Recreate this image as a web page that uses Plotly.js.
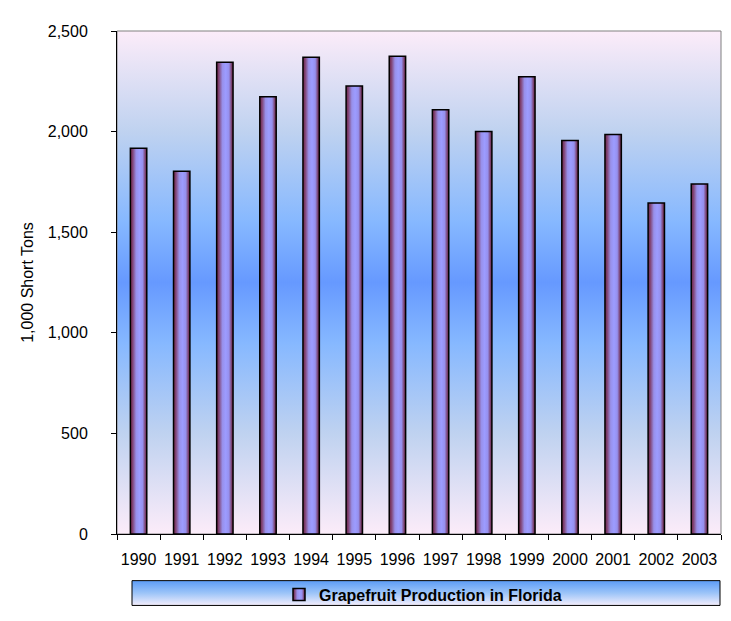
<!DOCTYPE html>
<html>
<head>
<meta charset="utf-8">
<script src="https://cdn.plot.ly/plotly-3.0.1.min.js"></script>
<style>
  html, body { margin: 0; padding: 0; background: #fff; }
  #chart { width: 731px; height: 621px; }
</style>
</head>
<body>
<div id="chart"></div>
<script>
const years = ['1990','1991','1992','1993','1994','1995','1996','1997','1998','1999','2000','2001','2002','2003'];
const production = [1917, 1803, 2345, 2173, 2370, 2227, 2375, 2109, 2000, 2272, 1956, 1986, 1645, 1739];
const seriesName = 'Grapefruit Production in Florida';
const yTitle = '1,000 Short Tons';

function gradSvg(stops) {
  const s = stops.map(([o, c]) => `<stop offset='${o}' stop-color='${c}'/>`).join('');
  const svg = `<svg xmlns='http://www.w3.org/2000/svg' width='100' height='100' viewBox='0 0 100 100' preserveAspectRatio='none'><defs><linearGradient id='g' x1='0' y1='0' x2='0' y2='1'>${s}</linearGradient></defs><rect x='0' y='0' width='100' height='100' fill='url(#g)'/></svg>`;
  return 'data:image/svg+xml;charset=utf-8,' + encodeURIComponent(svg);
}

const plotBg = gradSvg([[0,'#fcecf9'],[0.2,'#bfd2f0'],[0.38,'#86b8ff'],[0.5,'#6699ff'],[0.62,'#86b8ff'],[0.8,'#bfd2f0'],[1,'#fcecf9']]);
const legendBg = gradSvg([[0,'#5c9cf6'],[0.5,'#9cc4f8'],[1,'#f4eefc']]);

const font = 'Liberation Sans, Arial, sans-serif';

const trace = {
  type: 'bar',
  x: years,
  y: production,
  name: seriesName,
  showlegend: true,
  marker: { color: '#9999ff', line: { color: '#000000', width: 1.5 } },
  hoverinfo: 'x+y'
};

const L = 117, R = 721, T = 31, B = 538, W = 731, H = 621;
const pw = R - L, ph = B - T;
const px = v => (v - L) / pw;
const py = v => (B - v) / ph;

const layout = {
  width: W, height: H,
  margin: { l: L, r: W - R, t: T, b: H - B },
  paper_bgcolor: '#ffffff',
  plot_bgcolor: 'rgba(0,0,0,0)',
  bargap: 0.62,
  showlegend: true,
  font: { family: font, color: '#000000' },
  xaxis: {
    type: 'category',
    showgrid: false,
    zeroline: false,
    showline: true, linecolor: '#000000', linewidth: 1,
    ticks: 'outside', ticklen: 5, tickcolor: '#000000', tickwidth: 1,
    tickson: 'boundaries',
    tickangle: 0,
    ticklabelstandoff: 11,
    tickfont: { family: font, size: 16, color: '#000000' },
    fixedrange: true
  },
  yaxis: {
    range: [0, 2500],
    dtick: 500, tick0: 0,
    tickformat: ',d',
    showgrid: false,
    zeroline: false,
    showline: true, linecolor: '#000000', linewidth: 1,
    ticks: 'outside', ticklen: 5, tickcolor: '#000000', tickwidth: 1,
    ticklabelstandoff: 20,
    tickfont: { family: font, size: 16, color: '#000000' },
    title: { text: yTitle, font: { family: font, size: 16, color: '#000000' }, standoff: 10 },
    fixedrange: true
  },
  legend: {
    orientation: 'h',
    x: px(423), xanchor: 'center',
    y: py(599), yanchor: 'middle',
    bgcolor: 'rgba(0,0,0,0)',
    borderwidth: 0,
    font: { family: font, size: 16, color: '#000000', weight: 'bold' },
    itemwidth: 30
  },
  images: [
    { source: plotBg, xref: 'paper', yref: 'paper', x: 0, y: 1, sizex: 1, sizey: 1, sizing: 'stretch', xanchor: 'left', yanchor: 'top', layer: 'below' },
    { source: legendBg, xref: 'paper', yref: 'paper', x: px(132), y: py(585), sizex: px(720) - px(132), sizey: py(585) - py(610), sizing: 'stretch', xanchor: 'left', yanchor: 'top', layer: 'below' }
  ],
  shapes: [
    { type: 'rect', xref: 'paper', yref: 'paper', x0: 0, x1: 1, y0: 0, y1: 1, line: { color: '#808080', width: 1 }, fillcolor: 'rgba(0,0,0,0)', layer: 'below' },
    { type: 'rect', xref: 'paper', yref: 'paper', x0: px(132), x1: px(720), y0: py(610), y1: py(585), line: { color: '#000000', width: 1 }, fillcolor: 'rgba(0,0,0,0)', layer: 'below' }
  ]
};

function applyBarGradient(gd) {
  const svg = gd.querySelector('svg.main-svg');
  if (!svg) return;
  let defs = svg.querySelector('defs');
  if (!defs) { defs = document.createElementNS('http://www.w3.org/2000/svg', 'defs'); svg.insertBefore(defs, svg.firstChild); }
  const NS = 'http://www.w3.org/2000/svg';
  const lg = document.createElementNS(NS, 'linearGradient');
  lg.setAttribute('id', 'barGradient');
  lg.setAttribute('x1', '0'); lg.setAttribute('y1', '0');
  lg.setAttribute('x2', '1'); lg.setAttribute('y2', '0');
  [[0,'#6a2042'],[0.15,'#83487a'],[0.35,'#9890ea'],[0.55,'#9c9cff'],[0.75,'#9690ee'],[0.9,'#7c4574'],[1,'#6a2042']].forEach(([o, c]) => {
    const st = document.createElementNS(NS, 'stop');
    st.setAttribute('offset', o); st.setAttribute('stop-color', c);
    lg.appendChild(st);
  });
  defs.appendChild(lg);
  gd.querySelectorAll('.barlayer .point path, .legend .legendpoints path').forEach(p => {
    p.style.fill = 'url(#barGradient)';
  });
}

const gd = document.getElementById('chart');
Plotly.newPlot(gd, [trace], layout, { displayModeBar: false, staticPlot: true }).then(() => applyBarGradient(gd));
</script>
</body>
</html>
